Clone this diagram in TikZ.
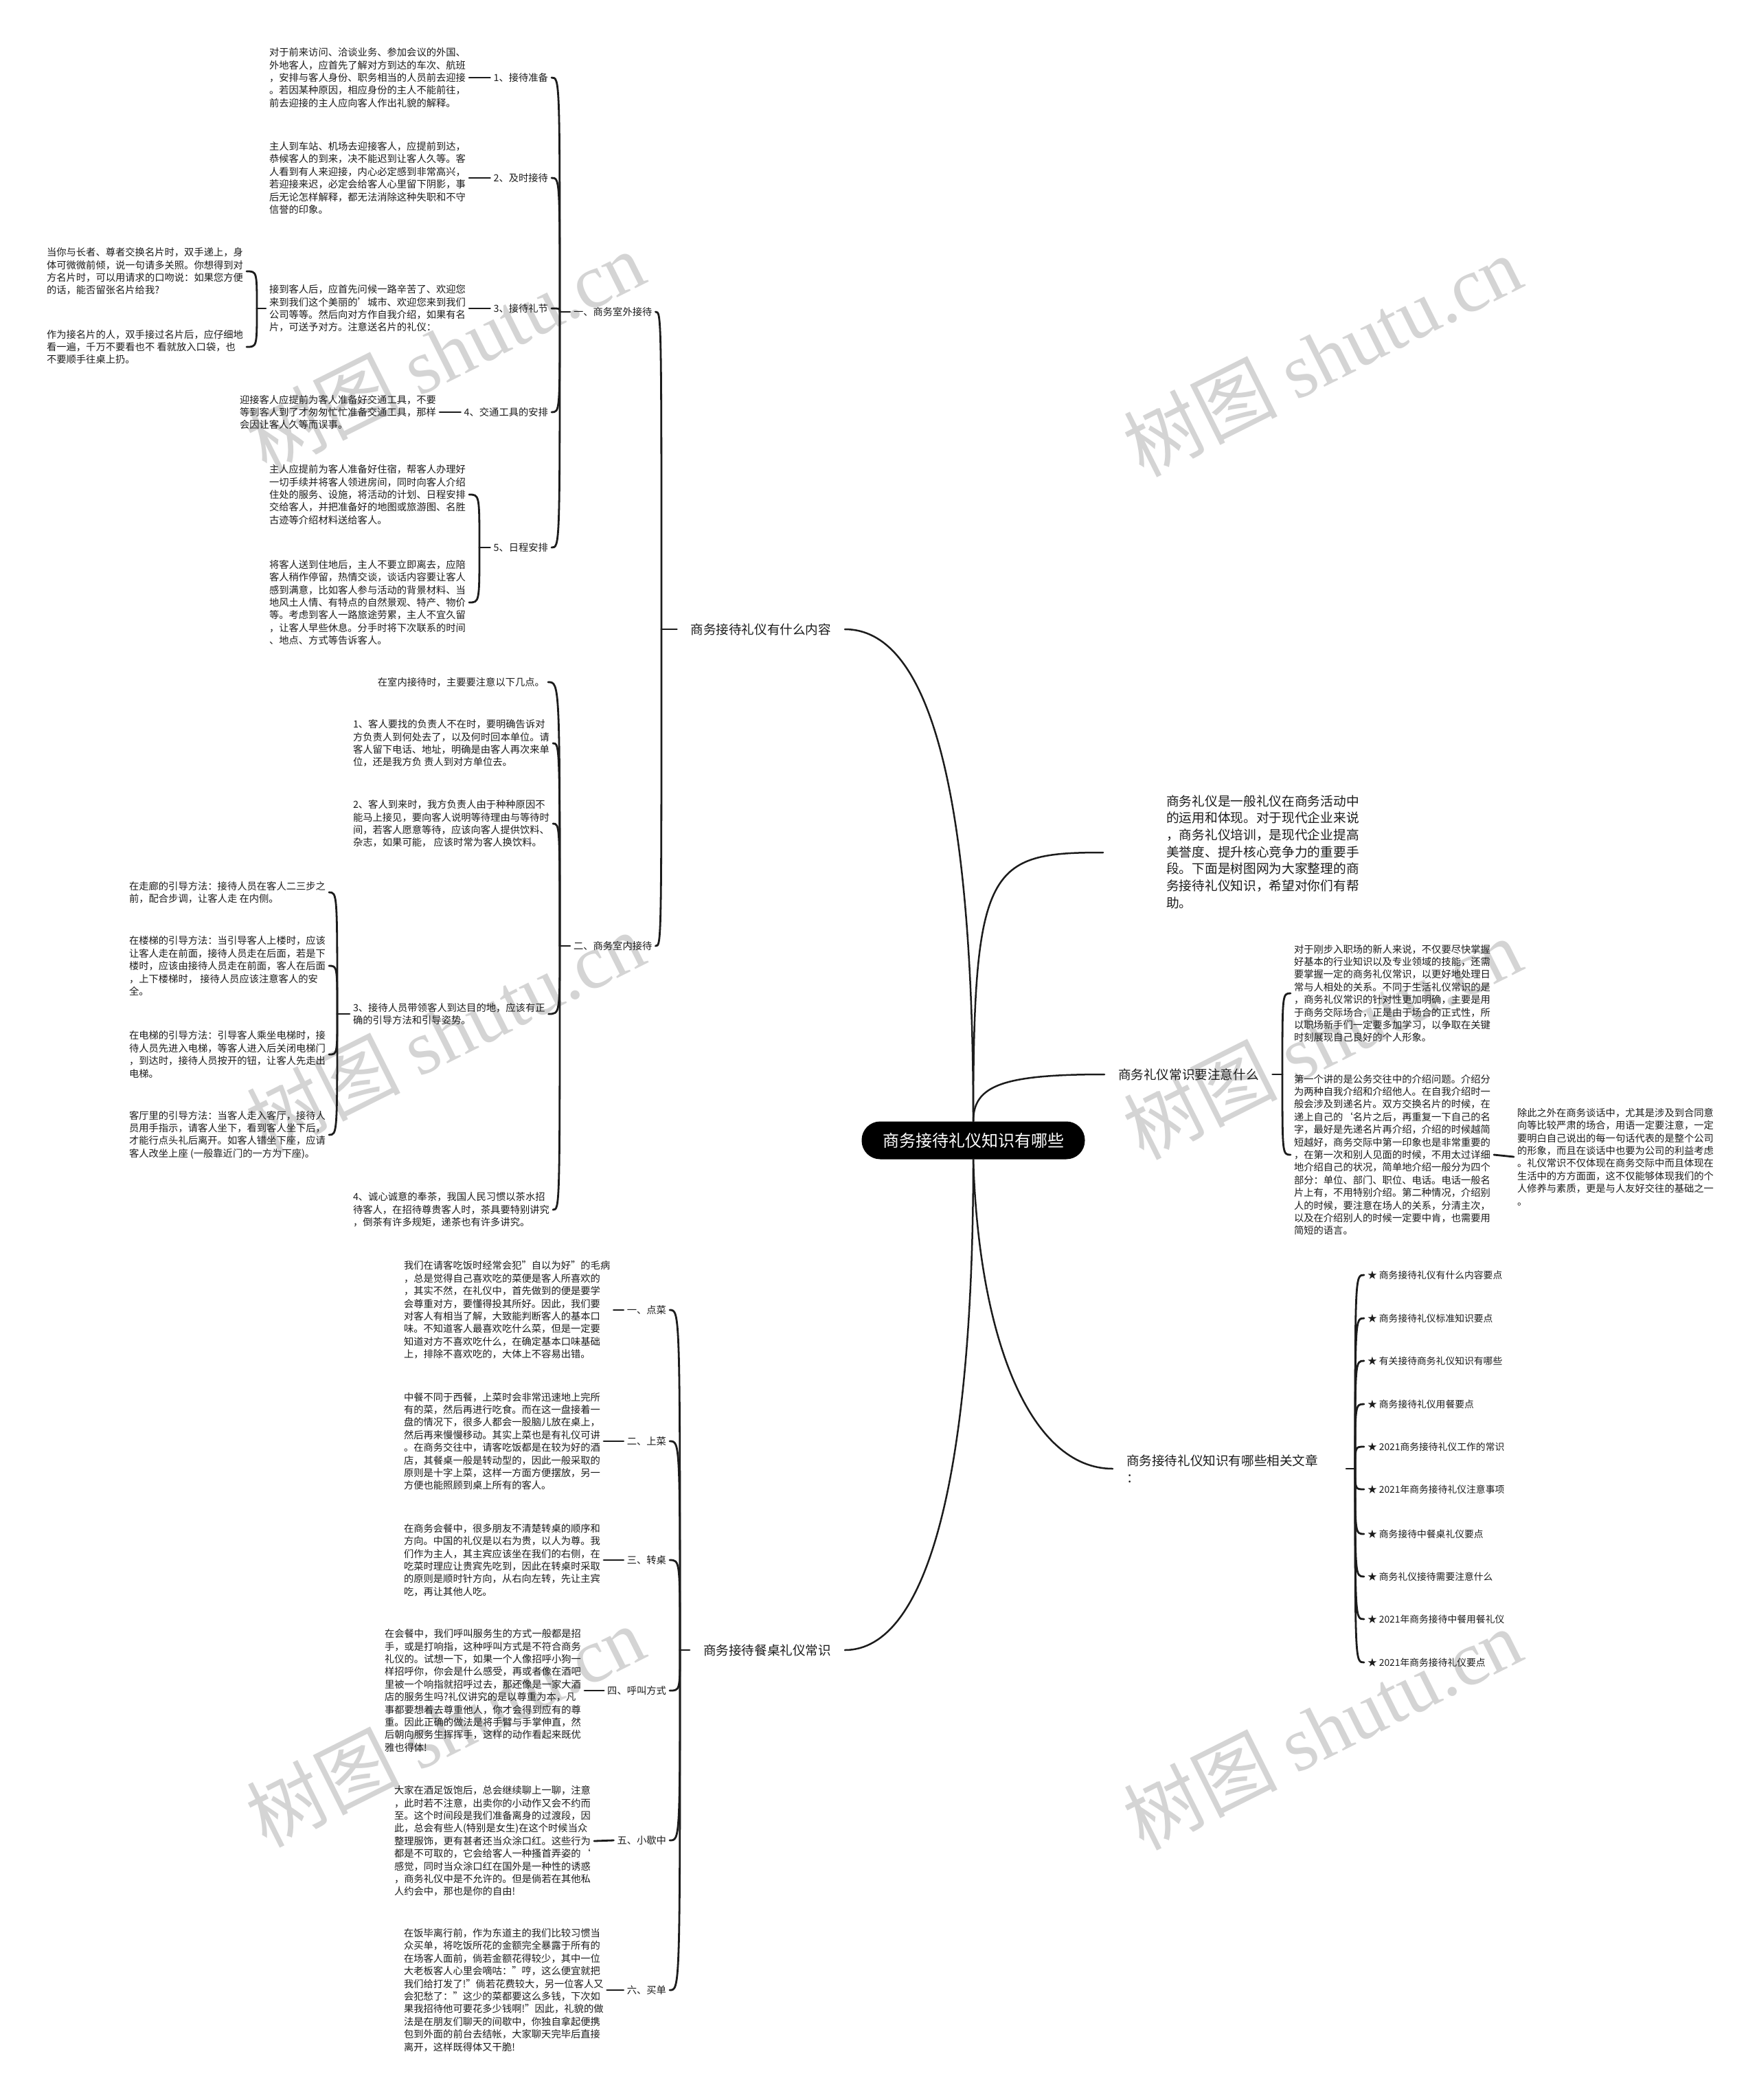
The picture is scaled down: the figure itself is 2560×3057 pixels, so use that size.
\documentclass[tikz,border=0pt]{standalone}
\usepackage{fontspec}
\setmainfont{Noto Sans CJK SC}
\newfontfamily\wmserif{Liberation Serif}
\definecolor{ink}{RGB}{28,28,28}
\definecolor{wmgray}{RGB}{212,212,212}
\begin{document}
\begin{tikzpicture}[x=1pt,y=-1pt,
  conn/.style={draw=ink, line width=2.8pt, line cap=round},
  mainc/.style={draw=ink, line width=2.5pt, line cap=round},
  brk/.style={to path={.. controls (\tikztostart |- \tikztotarget) .. (\tikztotarget)}},
  txt/.style={text=ink, font=\fontsize{14.3}{18.4}\selectfont, align=left, inner sep=0pt, outer sep=5pt},
  lab/.style={text=ink, font=\fontsize{14.3}{18.4}\selectfont, inner sep=0pt, outer sep=5pt},
  mainlab/.style={text=ink, font=\fontsize{18.6}{25}\selectfont, align=left, inner sep=0pt, outer sep=20pt},
  introtxt/.style={text=ink, font=\fontsize{18.7}{24.7}\selectfont, align=left, inner sep=0pt},
  rootbox/.style={fill=black, text=white, rounded corners=27pt, minimum width=325pt, minimum height=55pt, inner sep=0pt, font=\fontsize{24}{28}\selectfont},
  art/.style={text=ink, font=\fontsize{13.8}{18}\selectfont, inner sep=0pt, outer sep=5pt},
  wm/.style={text=wmgray, font=\fontsize{112}{120}\selectfont, inner sep=0pt, rotate=26.6}
]
\fill[white] (0,0) rectangle (2560,3057);
\useasboundingbox (0,0) rectangle (2560,3057);

% watermarks
\foreach \wx/\wy [count=\i] in {648/511, 1925/517, 648/1502, 1925/1511, 648/2512, 1925/2516}
  \node[wm] (wm\i) at (\wx,\wy) {树图 {\wmserif shutu.cn}};

% root
\node[rootbox] (root) at (1417,1660) {商务接待礼仪知识有哪些};

% main branches
\node[mainlab, anchor=east] (B1) at (1230,916) {商务接待礼仪有什么内容};
\node[mainlab, anchor=east] (B2) at (1230,2402) {商务接待餐桌礼仪常识};
\node[introtxt, anchor=west] (R0) at (1698,1240) {商务礼仪是一般礼仪在商务活动中\\的运用和体现。对于现代企业来说\\，商务礼仪培训，是现代企业提高\\美誉度、提升核心竞争力的重要手\\段。下面是树图网为大家整理的商\\务接待礼仪知识，希望对你们有帮\\助。};
\coordinate (r0in) at (1606,1241);
\node[mainlab, anchor=west] (B3) at (1608,1564) {商务礼仪常识要注意什么};
\node[mainlab, anchor=west, text width=300pt] (B4) at (1620,2138) {商务接待礼仪知识有哪些相关文章\\：};

\draw[mainc] (root.north) .. controls (1417,1140) and (1350,916) .. (B1.east);
\draw[mainc] (root.north) .. controls (1417,1260) and (1440,1241) .. (r0in);
\draw[mainc] (root.north) .. controls (1417,1580) and (1460,1564) .. (B3.west);
\draw[mainc] (root.south) .. controls (1425,1950) and (1500,2138) .. (B4.west);
\draw[mainc] (root.south) .. controls (1417,2150) and (1350,2402) .. (B2.east);

% ---------- branch 1 ----------
\coordinate (jB1) at (963,916);
\node[lab, anchor=west] (LA) at (830,454) {一、商务室外接待};
\node[lab, anchor=west] (LB) at (830,1377) {二、商务室内接待};
\draw[conn] (B1.west) -- (jB1);
\draw[conn] (jB1) to[brk] (LA.east);
\draw[conn] (jB1) to[brk] (LB.east);

% 一 children
\coordinate (jA) at (815,454);
\draw[conn] (LA.west) -- (jA);
\node[lab, anchor=east] (L1) at (803,113) {1、接待准备};
\node[lab, anchor=east] (L2) at (803,259) {2、及时接待};
\node[lab, anchor=east] (L3) at (803,449) {3、接待礼节};
\node[lab, anchor=east] (L4) at (803,600) {4、交通工具的安排};
\node[lab, anchor=east] (L5) at (803,797) {5、日程安排};
\foreach \n in {L1,L2,L3,L4,L5} \draw[conn] (jA) to[brk] (\n.east);

\node[txt, anchor=west] (T1) at (387,113) {对于前来访问、洽谈业务、参加会议的外国、\\外地客人，应首先了解对方到达的车次、航班\\，安排与客人身份、职务相当的人员前去迎接\\。若因某种原因，相应身份的主人不能前往，\\前去迎接的主人应向客人作出礼貌的解释。};
\node[txt, anchor=west] (T2) at (387,259) {主人到车站、机场去迎接客人，应提前到达，\\恭候客人的到来，决不能迟到让客人久等。客\\人看到有人来迎接，内心必定感到非常高兴，\\若迎接来迟，必定会给客人心里留下阴影，事\\后无论怎样解释，都无法消除这种失职和不守\\信誉的印象。};
\node[txt, anchor=west] (T3) at (387,449) {接到客人后，应首先问候一路辛苦了、欢迎您\\来到我们这个美丽的\symbol{39}城市、欢迎您来到我们\\公司等等。然后向对方作自我介绍，如果有名\\片，可送予对方。注意送名片的礼仪：};
\node[txt, anchor=west] (T3a) at (63,395) {当你与长者、尊者交换名片时，双手递上，身\\体可微微前倾，说一句请多关照。你想得到对\\方名片时，可以用请求的口吻说：如果您方便\\的话，能否留张名片给我?};
\node[txt, anchor=west] (T3b) at (63,505) {作为接名片的人，双手接过名片后，应仔细地\\看一遍，千万不要看也不 看就放入口袋，也\\不要顺手往桌上扔。};
\node[txt, anchor=west] (T4) at (344,600) {迎接客人应提前为客人准备好交通工具，不要\\等到客人到了才匆匆忙忙准备交通工具，那样\\会因让客人久等而误事。};
\node[txt, anchor=west] (T5a) at (387,720) {主人应提前为客人准备好住宿，帮客人办理好\\一切手续并将客人领进房间，同时向客人介绍\\住处的服务、设施，将活动的计划、日程安排\\交给客人，并把准备好的地图或旅游图、名胜\\古迹等介绍材料送给客人。};
\node[txt, anchor=west] (T5b) at (387,877) {将客人送到住地后，主人不要立即离去，应陪\\客人稍作停留，热情交谈，谈话内容要让客人\\感到满意，比如客人参与活动的背景材料、当\\地风土人情、有特点的自然景观、特产、物价\\等。考虑到客人一路旅途劳累，主人不宜久留\\，让客人早些休息。分手时将下次联系的时间\\、地点、方式等告诉客人。};

\draw[conn] (T1.east) -- (L1.west);
\draw[conn] (T2.east) -- (L2.west);
\draw[conn] (T3.east) -- (L3.west);
\draw[conn] (T4.east) -- (L4.west);
\coordinate (jT3) at (374,449);
\draw[conn] (T3.west) -- (jT3);
\draw[conn] (jT3) to[brk] (T3a.east);
\draw[conn] (jT3) to[brk] (T3b.east);
\coordinate (jT5) at (698,797);
\draw[conn] (L5.west) -- (jT5);
\draw[conn] (jT5) to[brk] (T5a.east);
\draw[conn] (jT5) to[brk] (T5b.east);

% 二 children
\coordinate (jB) at (815,1377);
\draw[conn] (LB.west) -- (jB);
\node[txt, anchor=east] (E0) at (798,993) {在室内接待时，主要要注意以下几点。};
\node[txt, anchor=west] (I1) at (509,1082) {1、客人要找的负责人不在时，要明确告诉对\\方负责人到何处去了，以及何时回本单位。请\\客人留下电话、地址，明确是由客人再次来单\\位，还是我方负 责人到对方单位去。};
\node[txt, anchor=west] (I2) at (509,1199) {2、客人到来时，我方负责人由于种种原因不\\能马上接见，要向客人说明等待理由与等待时\\间，若客人愿意等待，应该向客人提供饮料、\\杂志，如果可能， 应该时常为客人换饮料。};
\node[txt, anchor=west] (I3) at (509,1476) {3、接待人员带领客人到达目的地，应该有正\\确的引导方法和引导姿势。};
\node[txt, anchor=west] (I4) at (509,1761) {4、诚心诚意的奉茶，我国人民习惯以茶水招\\待客人，在招待尊贵客人时，茶具要特别讲究\\，倒茶有许多规矩，递茶也有许多讲究。};
\foreach \n in {E0,I1,I2,I3,I4} \draw[conn] (jB) to[brk] (\n.east);

\node[txt, anchor=west] (I3a) at (183,1299) {在走廊的引导方法：接待人员在客人二三步之\\前，配合步调，让客人走 在内侧。};
\node[txt, anchor=west] (I3b) at (183,1406) {在楼梯的引导方法：当引导客人上楼时，应该\\让客人走在前面，接待人员走在后面，若是下\\楼时，应该由接待人员走在前面，客人在后面\\，上下楼梯时， 接待人员应该注意客人的安\\全。};
\node[txt, anchor=west] (I3c) at (183,1535) {在电梯的引导方法：引导客人乘坐电梯时，接\\待人员先进入电梯，等客人进入后关闭电梯门\\，到达时，接待人员按开的钮，让客人先走出\\电梯。};
\node[txt, anchor=west] (I3d) at (183,1652) {客厅里的引导方法：当客人走入客厅，接待人\\员用手指示，请客人坐下，看到客人坐下后，\\才能行点头礼后离开。如客人错坐下座，应请\\客人改坐上座 (一般靠近门的一方为下座)。};
\coordinate (jI3) at (491,1476);
\draw[conn] (I3.west) -- (jI3);
\foreach \n in {I3a,I3b,I3c,I3d} \draw[conn] (jI3) to[brk] (\n.east);

% ---------- branch 2 (餐桌) ----------
\coordinate (jB2) at (990,2402);
\draw[conn] (B2.west) -- (jB2);
\node[lab, anchor=east] (M1) at (975,1907) {一、点菜};
\node[lab, anchor=east] (M2) at (975,2098) {二、上菜};
\node[lab, anchor=east] (M3) at (975,2271) {三、转桌};
\node[lab, anchor=east] (M4) at (975,2461) {四、呼叫方式};
\node[lab, anchor=east] (M5) at (975,2679) {五、小歇中};
\node[lab, anchor=east] (M6) at (975,2897) {六、买单};
\foreach \n in {M1,M2,M3,M4,M5,M6} \draw[conn] (jB2) to[brk] (\n.east);

\node[txt, anchor=west] (D1) at (583,1907) {我们在请客吃饭时经常会犯"自以为好"的毛病\\，总是觉得自己喜欢吃的菜便是客人所喜欢的\\，其实不然，在礼仪中，首先做到的便是要学\\会尊重对方，要懂得投其所好。因此，我们要\\对客人有相当了解，大致能判断客人的基本口\\味。不知道客人最喜欢吃什么菜，但是一定要\\知道对方不喜欢吃什么，在确定基本口味基础\\上，排除不喜欢吃的，大体上不容易出错。};
\node[txt, anchor=west] (D2) at (583,2098) {中餐不同于西餐，上菜时会非常迅速地上完所\\有的菜，然后再进行吃食。而在这一盘接着一\\盘的情况下，很多人都会一股脑儿放在桌上，\\然后再来慢慢移动。其实上菜也是有礼仪可讲\\。在商务交往中，请客吃饭都是在较为好的酒\\店，其餐桌一般是转动型的，因此一般采取的\\原则是十字上菜，这样一方面方便摆放，另一\\方便也能照顾到桌上所有的客人。};
\node[txt, anchor=west] (D3) at (583,2271) {在商务会餐中，很多朋友不清楚转桌的顺序和\\方向。中国的礼仪是以右为贵，以人为尊。我\\们作为主人，其主宾应该坐在我们的右侧，在\\吃菜时理应让贵宾先吃到，因此在转桌时采取\\的原则是顺时针方向，从右向左转，先让主宾\\吃，再让其他人吃。};
\node[txt, anchor=west] (D4) at (555,2461) {在会餐中，我们呼叫服务生的方式一般都是招\\手，或是打响指，这种呼叫方式是不符合商务\\礼仪的。试想一下，如果一个人像招呼小狗一\\样招呼你，你会是什么感受，再或者像在酒吧\\里被一个响指就招呼过去，那还像是一家大酒\\店的服务生吗?礼仪讲究的是以尊重为本，凡\\事都要想着去尊重他人，你才会得到应有的尊\\重。因此正确的做法是将手臂与手掌伸直，然\\后朝向服务生挥挥手，这样的动作看起来既优\\雅也得体!};
\node[txt, anchor=west] (D5) at (569,2680) {大家在酒足饭饱后，总会继续聊上一聊，注意\\，此时若不注意，出卖你的小动作又会不约而\\至。这个时间段是我们准备离身的过渡段，因\\此，总会有些人(特别是女生)在这个时候当众\\整理服饰，更有甚者还当众涂口红。这些行为\\都是不可取的，它会给客人一种搔首弄姿的\symbol{96}\\感觉，同时当众涂口红在国外是一种性的诱惑\\，商务礼仪中是不允许的。但是倘若在其他私\\人约会中，那也是你的自由!};
\node[txt, anchor=west] (D6) at (583,2897) {在饭毕离行前，作为东道主的我们比较习惯当\\众买单，将吃饭所花的金额完全暴露于所有的\\在场客人面前，倘若金额花得较少，其中一位\\大老板客人心里会嘀咕："哼，这么便宜就把\\我们给打发了!"倘若花费较大，另一位客人又\\会犯愁了："这少的菜都要这么多钱，下次如\\果我招待他可要花多少钱啊!"因此，礼貌的做\\法是在朋友们聊天的间歇中，你独自拿起便携\\包到外面的前台去结帐，大家聊天完毕后直接\\离开，这样既得体又干脆!};
\foreach \i in {1,...,6} \draw[conn] (D\i.east) -- (M\i.west);

% ---------- right: 常识 ----------
\coordinate (jB3) at (1867,1564);
\draw[conn] (B3.east) -- (jB3);
\node[txt, anchor=west] (RA) at (1879,1446) {对于刚步入职场的新人来说，不仅要尽快掌握\\好基本的行业知识以及专业领域的技能，还需\\要掌握一定的商务礼仪常识，以更好地处理日\\常与人相处的关系。不同于生活礼仪常识的是\\，商务礼仪常识的针对性更加明确，主要是用\\于商务交际场合，正是由于场合的正式性，所\\以职场新手们一定要多加学习，以争取在关键\\时刻展现自己良好的个人形象。};
\node[txt, anchor=west] (RB) at (1879,1681) {第一个讲的是公务交往中的介绍问题。介绍分\\为两种自我介绍和介绍他人。在自我介绍时一\\般会涉及到递名片。双方交换名片的时候，在\\递上自己的\symbol{96}名片之后，再重复一下自己的名\\字，最好是先递名片再介绍，介绍的时候越简\\短越好，商务交际中第一印象也是非常重要的\\，在第一次和别人见面的时候，不用太过详细\\地介绍自己的状况，简单地介绍一般分为四个\\部分：单位、部门、职位、电话。电话一般名\\片上有，不用特别介绍。第二种情况，介绍别\\人的时候，要注意在场人的关系，分清主次，\\以及在介绍别人的时候一定要中肯，也需要用\\简短的语言。};
\node[txt, anchor=west] (RC) at (2204,1684) {除此之外在商务谈话中，尤其是涉及到合同意\\向等比较严肃的场合，用语一定要注意，一定\\要明白自己说出的每一句话代表的是整个公司\\的形象，而且在谈话中也要为公司的利益考虑\\。礼仪常识不仅体现在商务交际中而且体现在\\生活中的方方面面，这不仅能够体现我们的个\\人修养与素质，更是与人友好交往的基础之一\\。};
\draw[conn] (jB3) to[brk] (RA.west);
\draw[conn] (jB3) to[brk] (RB.west);
\draw[conn] (RB.east) -- (RC.west);

% ---------- right: 相关文章 ----------
\coordinate (jB4) at (1973,2138);
\draw[conn] (B4.east) -- (jB4);
\foreach \t/\yy [count=\k] in {商务接待礼仪有什么内容要点/1856, 商务接待礼仪标准知识要点/1919, 有关接待商务礼仪知识有哪些/1981, 商务接待礼仪用餐要点/2044, 2021商务接待礼仪工作的常识/2106, 2021年商务接待礼仪注意事项/2168, 商务接待中餐桌礼仪要点/2233, 商务礼仪接待需要注意什么/2295, 2021年商务接待中餐用餐礼仪/2357, 2021年商务接待礼仪要点/2420}
{
  \node[art, anchor=west] (A\k) at (1986,\yy) {★ \t};
  \draw[conn] (jB4) to[brk] (A\k.west);
}
\end{tikzpicture}
\end{document}
